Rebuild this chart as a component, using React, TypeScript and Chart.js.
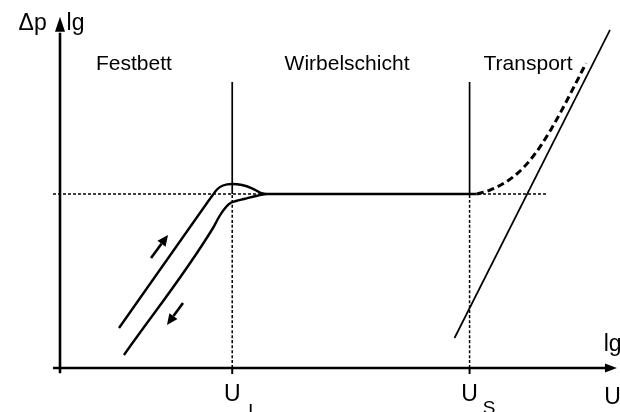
import { useEffect, useRef } from "react";
import { Chart, registerables } from "chart.js";

Chart.register(...registerables);

// Schematic coordinates: x = lg U, y = lg Δp (arbitrary units 0..100)
const regimeLabels = ["Festbett", "Wirbelschicht", "Transport"];
const regimeLabelX = [13.4, 52.0, 84.8];
const regimeLabelY = 87.2;

const uL = 31.2; // Lockerungsgeschwindigkeit
const uS = 74.2; // Schwebegeschwindigkeit
const plateau = 50; // Druckverlust der Wirbelschicht
const separatorTop = 82.2;

// Festbett, steigende Geschwindigkeit (mit Überhöhung am Lockerungspunkt)
const risingX = [10.69, 26.63, 27.54, 28.44, 29.53, 31.16, 32.97, 34.78, 36.23, 37.32];
const risingY = [11.49, 47.41, 49.43, 51.29, 52.44, 52.87, 52.59, 51.64, 50.43, 50.0];

// Festbett, fallende Geschwindigkeit
const fallingX = [11.59, 27.72, 28.8, 29.71, 30.62, 31.88, 33.33, 35.51, 37.32];
const fallingY = [3.74, 40.23, 43.39, 45.55, 47.13, 47.99, 48.56, 49.43, 50.0];

// Wirbelschicht-Plateau
const plateauX = [37.32, 75.5];

// Übergang in den pneumatischen Transport
const transportX = [75.54, 77.9, 80.62, 82.97, 85.14, 87.14, 88.95, 90.76, 92.57, 94.2, 95.29];
const transportY = [50.0, 51.12, 53.28, 56.06, 59.68, 63.97, 68.56, 73.68, 79.14, 84.17, 87.56];

// Einzelpartikel-Gerade
const particleX = [71.47, 99.64];
const particleY = [8.62, 97.13];

// Richtungspfeile der Hysterese
const upArrowX = [16.49, 19.57];
const upArrowY = [31.61, 38.22];
const downArrowX = [22.28, 19.38];
const downArrowY = [18.68, 12.36];

// Hilfslinie
const guideX = [-1.27, 88.4];

const FONT = "'Liberation Sans', Arial, Helvetica, sans-serif";

function pts(xs: number[], ys: number[]) {
  return xs.map((x, i) => ({ x, y: ys[i] }));
}

function arrowHead(
  ctx: CanvasRenderingContext2D,
  fx: number,
  fy: number,
  tx: number,
  ty: number,
  len: number,
  half: number
) {
  const a = Math.atan2(ty - fy, tx - fx);
  const bx = tx - len * Math.cos(a);
  const by = ty - len * Math.sin(a);
  ctx.beginPath();
  ctx.moveTo(tx, ty);
  ctx.lineTo(bx + half * Math.sin(a), by - half * Math.cos(a));
  ctx.lineTo(bx - half * Math.sin(a), by + half * Math.cos(a));
  ctx.closePath();
  ctx.fill();
  return [bx, by];
}

const decorations = {
  id: "decorations",
  afterDatasetsDraw(chart: any) {
    const { ctx } = chart;
    const sx = chart.scales.x;
    const sy = chart.scales.y;
    const px = (v: number) => sx.getPixelForValue(v);
    const py = (v: number) => sy.getPixelForValue(v);
    ctx.save();
    ctx.strokeStyle = "#000";
    ctx.fillStyle = "#000";

    // axes with arrows
    ctx.lineWidth = 2.6;
    ctx.lineCap = "butt";
    const yBase = arrowHead(ctx, px(0), py(0), px(0), py(100.9), 15, 5);
    ctx.beginPath();
    ctx.moveTo(px(0), py(-1.5));
    ctx.lineTo(px(0), yBase[1] + 1);
    ctx.stroke();
    const xBase = arrowHead(ctx, px(0), py(0), px(100.9), py(0), 12, 4.5);
    ctx.beginPath();
    ctx.moveTo(px(-1.27), py(0));
    ctx.lineTo(xBase[0] + 1, py(0));
    ctx.stroke();

    // ticks at U_L and U_S
    ctx.lineWidth = 2;
    [uL, uS].forEach((u) => {
      ctx.beginPath();
      ctx.moveTo(px(u), py(0));
      ctx.lineTo(px(u), py(0) + 6);
      ctx.stroke();
    });

    // hysteresis direction arrows
    ctx.lineWidth = 2.6;
    [
      [upArrowX, upArrowY],
      [downArrowX, downArrowY],
    ].forEach(([xs, ys]) => {
      const fx = px(xs[0]);
      const fy = py(ys[0]);
      const tx = px(xs[1]);
      const ty = py(ys[1]);
      const b = arrowHead(ctx, fx, fy, tx, ty, 11, 5);
      ctx.beginPath();
      ctx.moveTo(fx, fy);
      ctx.lineTo(b[0], b[1]);
      ctx.stroke();
    });

    // texts
    ctx.textBaseline = "middle";
    ctx.font = `21px ${FONT}`;
    ctx.textAlign = "center";
    regimeLabels.forEach((t, i) => ctx.fillText(t, px(regimeLabelX[i]), py(regimeLabelY)));

    ctx.font = `23px ${FONT}`;
    ctx.textAlign = "right";
    ctx.fillText("Δp", px(-2.4), py(99.0));
    ctx.textAlign = "left";
    ctx.fillText("lg", px(1.2), py(99.0));
    ctx.fillText("lg", px(98.5), py(6.6));
    ctx.fillText("U", px(98.6), py(-8.6));

    ctx.textAlign = "center";
    ctx.fillText("U", px(uL), py(-7.8));
    ctx.fillText("U", px(uS), py(-7.8));
    ctx.font = `19px ${FONT}`;
    ctx.textAlign = "left";
    ctx.fillText("L", px(34.1), py(-12.6));
    ctx.fillText("S", px(76.6), py(-11.6));

    ctx.restore();
  },
};

export default function App() {
  const ref = useRef<HTMLCanvasElement | null>(null);

  useEffect(() => {
    if (!ref.current) return;
    const solid = (xs: number[], ys: number[], w = 2.4) => ({
      data: pts(xs, ys),
      showLine: true,
      pointRadius: 0,
      borderColor: "#000",
      borderWidth: w,
      clip: false as any,
      cubicInterpolationMode: "monotone" as const,
    });
    const dotted = (xs: number[], ys: number[]) => ({
      ...solid(xs, ys, 1.5),
      borderDash: [3, 2],
    });

    const chart = new Chart(ref.current, {
      type: "scatter",
      data: {
        datasets: [
          dotted(guideX, [plateau, plateau]),
          dotted([uL, uL], [0, plateau]),
          dotted([uS, uS], [0, plateau]),
          solid([uL, uL], [plateau, separatorTop], 1.7),
          solid([uS, uS], [plateau, separatorTop], 1.7),
          solid(risingX, risingY),
          solid(fallingX, fallingY),
          solid(plateauX, [plateau, plateau]),
          { ...solid(transportX, transportY, 3), borderDash: [7, 4] },
          solid(particleX, particleY, 1.7),
        ] as any,
      },
      options: {
        animation: false,
        responsive: true,
        maintainAspectRatio: false,
        devicePixelRatio: 1,
        events: [],
        layout: { padding: { left: 60, right: 8, top: 20, bottom: 44 } },
        scales: {
          x: { type: "linear", min: 0, max: 100, display: false },
          y: { type: "linear", min: 0, max: 100, display: false },
        },
        plugins: {
          legend: { display: false },
          tooltip: { enabled: false },
        },
      },
      plugins: [decorations],
    });
    return () => chart.destroy();
  }, []);

  return (
    <div style={{ position: "absolute", left: 0, top: 0, width: 620, height: 412, background: "#fff" }}>
      <canvas ref={ref} />
    </div>
  );
}
